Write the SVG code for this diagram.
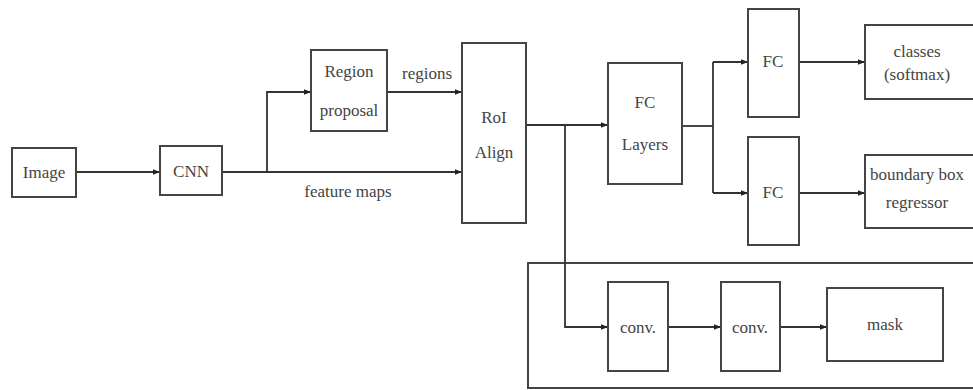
<svg xmlns="http://www.w3.org/2000/svg" width="973" height="390" viewBox="0 0 973 390">
<defs>
<marker id="ah" viewBox="0 0 10 10" refX="10" refY="5" markerWidth="9" markerHeight="7" markerUnits="userSpaceOnUse" orient="auto">
<path d="M0,1 L10,5 L0,9 z" fill="#222"/>
</marker>
<style>
.box{fill:#fff;stroke:#444;stroke-width:2}
.ln{fill:none;stroke:#333;stroke-width:1.8}
.ar{fill:none;stroke:#333;stroke-width:1.8;marker-end:url(#ah)}
text{font-family:"Liberation Serif","Times New Roman",serif;font-size:17px;fill:#444;text-anchor:middle}
</style>
</defs>
<rect width="973" height="390" fill="#fff"/>
<g id="mask-branch">
<rect x="528" y="263" width="460" height="125" fill="none" stroke="#444" stroke-width="2"/>
</g>
<g id="connectors">
<line class="ar" x1="76" y1="172" x2="160" y2="172"/>
<line class="ar" x1="222" y1="172" x2="462" y2="172"/>
<polyline class="ar" points="267,172 267,92 311,92"/>
<line class="ar" x1="387" y1="92" x2="462" y2="92"/>
<line class="ar" x1="526" y1="125" x2="608" y2="125"/>
<polyline class="ar" points="565,125 565,327 608,327"/>
<line class="ln" x1="682" y1="126" x2="713" y2="126"/>
<line class="ar" x1="713" y1="62" x2="748" y2="62"/>
<line class="ln" x1="713" y1="62" x2="713" y2="193"/>
<line class="ar" x1="713" y1="193" x2="748" y2="193"/>
<line class="ar" x1="799" y1="62" x2="865" y2="62"/>
<line class="ar" x1="799" y1="193" x2="865" y2="193"/>
<line class="ar" x1="668" y1="327" x2="721" y2="327"/>
<line class="ar" x1="780" y1="327" x2="827" y2="327"/>
<text x="427" y="79">regions</text>
<text x="348" y="197">feature maps</text>
</g>
<g id="image"><rect class="box" x="12" y="148" width="64" height="49"/><text x="44" y="178">Image</text></g>
<g id="cnn"><rect class="box" x="160" y="146" width="62" height="49"/><text x="191" y="177">CNN</text></g>
<g id="region-proposal"><rect class="box" x="311" y="50" width="76" height="81"/><text x="349" y="77">Region</text><text x="349" y="116">proposal</text></g>
<g id="roi-align"><rect class="box" x="462" y="43" width="64" height="180"/><text x="494" y="123">RoI</text><text x="494" y="158">Align</text></g>
<g id="fc-layers"><rect class="box" x="608" y="63" width="74" height="121"/><text x="645" y="108">FC</text><text x="645" y="150">Layers</text></g>
<g id="fc1"><rect class="box" x="748" y="9" width="51" height="108"/><text x="773" y="67">FC</text></g>
<g id="fc2"><rect class="box" x="748" y="137" width="51" height="108"/><text x="773" y="198">FC</text></g>
<g id="classes"><rect class="box" x="865" y="25" width="120" height="74"/><text x="917" y="57">classes</text><text x="917" y="80">(softmax)</text></g>
<g id="bbox"><rect class="box" x="865" y="155" width="120" height="73"/><text x="917" y="180">boundary box</text><text x="917" y="208">regressor</text></g>
<g id="conv1"><rect class="box" x="608" y="282" width="60" height="89"/><text x="638" y="333">conv.</text></g>
<g id="conv2"><rect class="box" x="721" y="282" width="59" height="89"/><text x="750" y="333">conv.</text></g>
<g id="mask"><rect class="box" x="827" y="288" width="116" height="73"/><text x="885" y="330">mask</text></g>
</svg>
